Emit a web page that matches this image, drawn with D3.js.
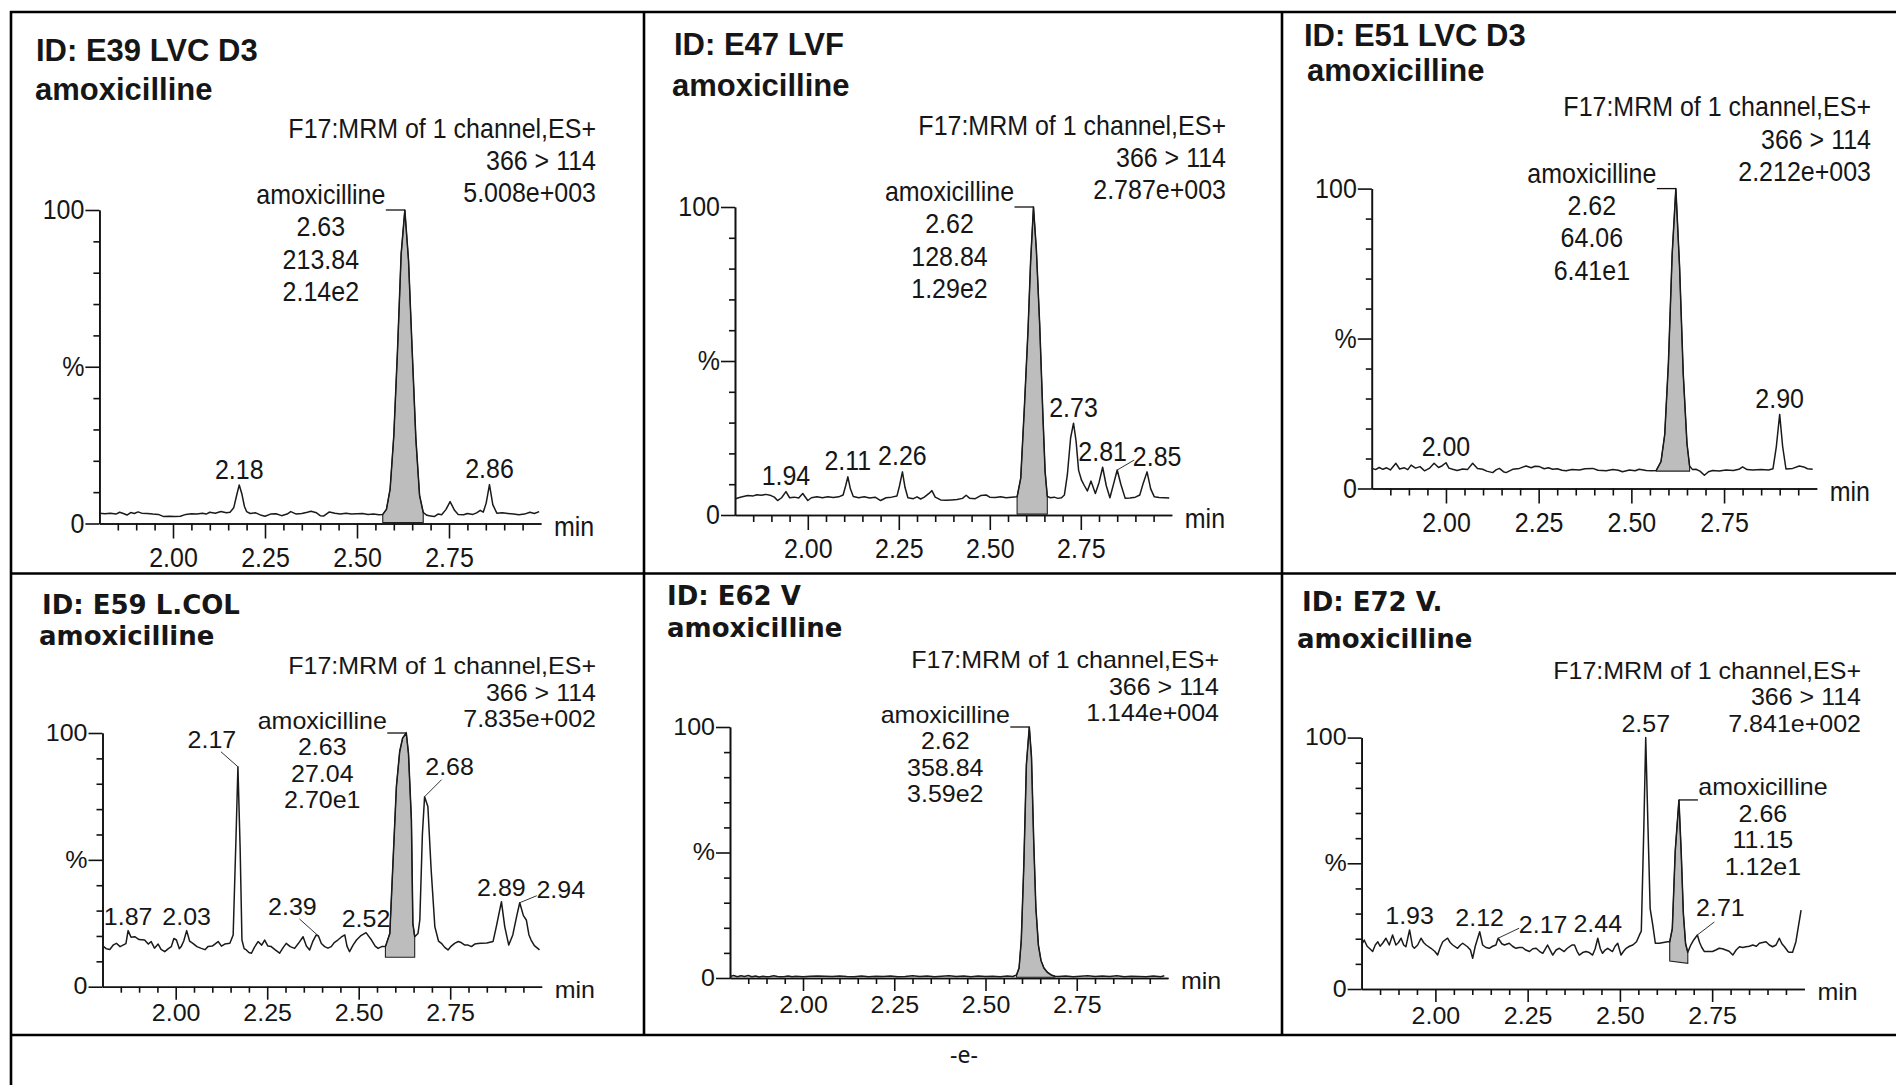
<!DOCTYPE html>
<html>
<head>
<meta charset="utf-8">
<script src="https://cdn.jsdelivr.net/npm/d3@7"></script>
<style>
  html, body { margin: 0; padding: 0; background: #fff; }
  svg { display: block; }
  text { font-family: "Liberation Sans", Arial, sans-serif; fill: #161616; }
  .sq { transform-box: fill-box; transform-origin: center; }
</style>
</head>
<body>
<script>
// ---------- data ----------
const panelIds = ["ID: E39 LVC D3", "ID: E47 LVF", "ID: E51 LVC D3", "ID: E59 L.COL", "ID: E62 V", "ID: E72 V."];
const compound = "amoxicilline";
const channel = "F17:MRM of 1 channel,ES+";
const transition = "366 > 114";
const maxIntensity = ["5.008e+003", "2.787e+003", "2.212e+003", "7.835e+002", "1.144e+004", "7.841e+002"];

// integrated amoxicilline peak: retention time, area, height label
const mainRT = [2.63, 2.62, 2.62, 2.63, 2.62, 2.66];
const mainArea = [213.84, 128.84, 64.06, 27.04, 358.84, 11.15];
const mainHeight = ["2.14e2", "1.29e2", "6.41e1", "2.70e1", "3.59e2", "1.12e1"];

// other labelled peaks (retention times)
const peaksE39 = [2.18, 2.86];
const peaksE47 = [1.94, 2.11, 2.26, 2.73, 2.81, 2.85];
const peaksE51 = [2.00, 2.90];
const peaksE59 = [1.87, 2.03, 2.17, 2.39, 2.52, 2.68, 2.89, 2.94];
const peaksE62 = [];
const peaksE72 = [1.93, 2.12, 2.17, 2.44, 2.57, 2.71];

// integration window: start, end, baseline % at start, baseline % at end
const fillE39 = [2.57, 2.68, 0.3, 0.3];
const fillE47 = [2.575, 2.658, 0.3, 0.3];
const fillE51 = [2.567, 2.657, 5.8, 5.8];
const fillE59 = [2.573, 2.653, 11.6, 11.6];
const fillE62 = [2.585, 2.69, 0.3, 0.3];
const fillE72 = [2.635, 2.684, 11.1, 10.2];

const majorX = [2.00, 2.25, 2.50, 2.75];
const yLabels = [0, 50, 100];

// chromatogram traces: [time (min), relative intensity (%)]
const traceE39 = [[1.80,3.3],[1.815,3.1],[1.83,3.3],[1.845,3.0],[1.855,3.6],[1.865,3.2],[1.875,2.7],[1.885,3.5],[1.895,3.2],[1.905,3.7],[1.915,3.3],[1.93,3.2],[1.945,3.0],[1.96,2.9],[1.975,2.2],[1.99,2.3],[2.005,2.2],[2.02,2.3],[2.035,2.9],[2.05,3.1],[2.065,3.0],[2.08,3.3],[2.09,3.0],[2.10,3.6],[2.115,3.3],[2.13,3.8],[2.145,3.4],[2.155,3.6],[2.165,5.0],[2.173,9.0],[2.18,12.3],[2.187,9.5],[2.194,5.5],[2.20,3.8],[2.21,3.2],[2.225,3.4],[2.24,2.6],[2.25,2.3],[2.265,3.0],[2.28,3.1],[2.295,2.5],[2.31,3.0],[2.32,3.8],[2.335,3.0],[2.35,3.2],[2.365,3.6],[2.375,3.9],[2.39,3.4],[2.40,2.5],[2.41,2.4],[2.425,3.7],[2.44,3.3],[2.455,3.0],[2.47,3.3],[2.485,3.0],[2.50,3.1],[2.515,3.2],[2.53,2.9],[2.545,3.0],[2.56,2.8],[2.57,2.9],[2.58,4.5],[2.59,11],[2.60,28],[2.61,55],[2.62,86],[2.63,100],[2.64,84],[2.65,55],[2.66,27],[2.67,9],[2.68,3.5],[2.69,2.6],[2.70,2.4],[2.71,2.2],[2.72,3.0],[2.73,2.8],[2.742,4.5],[2.753,7.0],[2.765,4.2],[2.775,2.9],[2.79,2.8],[2.80,3.2],[2.815,2.9],[2.825,3.4],[2.835,4.2],[2.843,3.6],[2.851,6.5],[2.86,12.4],[2.869,6.0],[2.88,3.3],[2.895,3.4],[2.91,3.2],[2.925,3.0],[2.94,2.8],[2.955,3.0],[2.97,3.6],[2.982,3.2],[2.995,3.8]];

const traceE47 = [[1.80,5.2],[1.81,5.6],[1.82,5.9],[1.835,6.3],[1.85,6.2],[1.86,6.6],[1.872,6.4],[1.885,6.7],[1.899,6.3],[1.908,5.8],[1.917,4.7],[1.928,5.6],[1.94,7.6],[1.95,5.6],[1.963,5.8],[1.975,5.5],[1.986,7.0],[2.00,4.7],[2.01,5.6],[2.025,5.9],[2.04,5.6],[2.055,5.9],[2.07,5.7],[2.085,5.9],[2.097,6.5],[2.104,9.5],[2.11,12.4],[2.117,8.5],[2.125,6.0],[2.14,5.6],[2.155,5.9],[2.17,5.5],[2.185,5.8],[2.20,4.7],[2.215,5.6],[2.23,5.8],[2.245,6.2],[2.252,9.5],[2.26,14.0],[2.267,9.0],[2.275,5.6],[2.29,5.3],[2.30,5.9],[2.31,5.2],[2.32,5.8],[2.333,7.0],[2.341,7.9],[2.35,5.8],[2.365,4.9],[2.38,4.8],[2.395,4.9],[2.41,5.0],[2.425,5.4],[2.435,6.4],[2.445,5.4],[2.46,5.3],[2.475,6.3],[2.49,6.5],[2.50,5.8],[2.515,5.7],[2.53,5.9],[2.545,5.6],[2.56,5.8],[2.575,5.9],[2.585,12],[2.595,35],[2.605,60],[2.612,82],[2.62,100],[2.628,86],[2.637,62],[2.646,32],[2.652,14],[2.658,6.0],[2.667,5.6],[2.677,5.8],[2.687,5.4],[2.697,5.6],[2.705,6.5],[2.713,13],[2.722,25],[2.73,29.8],[2.737,24],[2.744,14.5],[2.752,11.3],[2.76,9.5],[2.768,7.8],[2.778,11.0],[2.79,7.0],[2.80,10.5],[2.81,15.5],[2.82,9.5],[2.83,5.6],[2.841,10.5],[2.85,14.6],[2.86,10],[2.872,5.4],[2.885,5.5],[2.90,5.8],[2.912,6.5],[2.922,10.5],[2.932,14.0],[2.942,8.5],[2.952,5.9],[2.965,5.7],[2.98,5.6],[2.993,5.5]];

const traceE51 = [[1.80,6.8],[1.81,6.3],[1.82,7.0],[1.83,6.4],[1.84,6.9],[1.85,6.2],[1.865,8.4],[1.875,6.5],[1.888,6.9],[1.897,6.3],[1.906,7.8],[1.918,6.8],[1.93,7.3],[1.942,5.9],[1.955,6.7],[1.968,8.4],[1.98,7.0],[1.99,7.6],[2.00,8.6],[2.008,6.8],[2.018,6.4],[2.03,6.0],[2.045,6.5],[2.058,6.3],[2.072,8.4],[2.085,6.7],[2.099,6.4],[2.11,5.8],[2.126,5.3],[2.135,6.2],[2.144,6.7],[2.155,5.6],[2.162,5.3],[2.18,6.4],[2.198,6.7],[2.216,7.5],[2.23,6.9],[2.24,7.4],[2.252,7.3],[2.265,6.6],[2.276,6.9],[2.288,6.4],[2.30,6.6],[2.313,6.1],[2.324,5.9],[2.34,6.3],[2.36,6.2],[2.375,6.6],[2.396,6.7],[2.41,6.1],[2.432,5.9],[2.45,6.3],[2.465,6.1],[2.476,5.6],[2.495,6.2],[2.51,5.9],[2.521,6.4],[2.54,6.0],[2.555,5.9],[2.567,6.0],[2.58,9],[2.59,18],[2.60,42],[2.61,78],[2.62,100],[2.63,74],[2.64,38],[2.65,15],[2.657,7.5],[2.665,6.3],[2.674,6.4],[2.685,5.8],[2.697,4.4],[2.708,5.6],[2.719,6.0],[2.737,5.8],[2.755,6.2],[2.775,6.0],[2.79,6.4],[2.80,7.2],[2.812,6.3],[2.827,6.2],[2.85,6.3],[2.87,6.2],[2.882,6.6],[2.891,14],[2.90,24.7],[2.908,14],[2.917,6.5],[2.935,6.7],[2.953,7.5],[2.965,7.2],[2.975,6.6],[2.989,6.4]];

const traceE59 = [[1.80,16.2],[1.81,15.0],[1.82,14.7],[1.83,16.5],[1.838,17.1],[1.848,15.8],[1.856,16.4],[1.864,17.0],[1.87,22.1],[1.878,19.5],[1.888,19.7],[1.90,18.6],[1.915,18.4],[1.925,16.8],[1.933,17.8],[1.942,15.2],[1.952,16.8],[1.96,14.7],[1.97,13.8],[1.98,15.0],[1.988,15.8],[1.995,19.0],[2.002,18.4],[2.01,15.0],[2.015,15.8],[2.022,18.0],[2.03,22.1],[2.038,18.0],[2.047,17.1],[2.058,15.8],[2.07,15.1],[2.08,14.6],[2.088,15.8],[2.10,16.0],[2.116,17.8],[2.125,16.0],[2.134,16.8],[2.148,17.1],[2.157,20.4],[2.165,60],[2.17,86.7],[2.176,55],[2.181,18.4],[2.187,15.0],[2.193,14.5],[2.20,13.5],[2.207,13.2],[2.215,15.5],[2.225,17.8],[2.235,16.4],[2.243,18.4],[2.252,16.0],[2.261,15.8],[2.272,14.5],[2.284,13.2],[2.294,15.5],[2.302,17.1],[2.313,15.8],[2.325,15.1],[2.335,17.0],[2.348,19.7],[2.357,16.0],[2.366,14.5],[2.375,18.0],[2.384,20.4],[2.39,20.0],[2.398,17.0],[2.407,15.8],[2.416,15.2],[2.425,15.8],[2.434,17.5],[2.443,18.4],[2.452,19.5],[2.462,20.4],[2.468,16.0],[2.475,13.8],[2.485,16.5],[2.494,18.4],[2.505,20.0],[2.52,21.3],[2.535,18.4],[2.545,16.0],[2.553,15.1],[2.563,15.8],[2.573,15.8],[2.585,21.0],[2.594,50],[2.603,78.9],[2.612,92.7],[2.62,98],[2.63,100],[2.636,92],[2.644,65.7],[2.648,25],[2.653,19.7],[2.662,21.0],[2.667,26.3],[2.674,60],[2.68,74.9],[2.689,71],[2.698,46],[2.708,23.7],[2.718,18.0],[2.726,17.1],[2.735,15.5],[2.744,14.5],[2.753,16.0],[2.762,17.1],[2.772,17.8],[2.78,17.4],[2.79,16.4],[2.799,16.4],[2.808,15.8],[2.817,16.8],[2.826,17.0],[2.835,17.1],[2.85,17.2],[2.867,17.8],[2.876,23.7],[2.89,33.5],[2.899,23.7],[2.91,16.4],[2.921,20.4],[2.932,28],[2.94,33.1],[2.95,28],[2.958,26.3],[2.965,20.5],[2.971,18.4],[2.98,16.2],[2.994,14.5]];

const traceE62 = [[1.80,0.6],[1.81,1.0],[1.82,0.5],[1.83,0.9],[1.84,0.6],[1.85,1.0],[1.86,0.5],[1.87,0.8],[1.88,0.4],[1.89,0.7],[1.90,0.5],[1.91,0.6],[1.92,0.9],[1.93,0.6],[1.94,0.5],[1.95,0.6],[1.96,0.8],[1.97,0.5],[1.98,0.7],[1.99,0.6],[2.00,0.5],[2.02,0.7],[2.04,0.8],[2.06,0.7],[2.08,0.6],[2.10,0.8],[2.12,0.6],[2.14,0.5],[2.16,0.8],[2.18,0.5],[2.20,0.7],[2.22,0.6],[2.24,0.8],[2.26,0.5],[2.28,0.6],[2.30,0.9],[2.32,0.6],[2.34,0.8],[2.36,0.5],[2.38,0.7],[2.40,0.9],[2.42,0.6],[2.44,0.8],[2.46,0.5],[2.48,0.8],[2.50,0.6],[2.52,0.7],[2.54,0.5],[2.56,0.8],[2.575,0.6],[2.585,1.2],[2.592,4],[2.598,15],[2.605,45],[2.612,85],[2.62,100],[2.626,88],[2.632,55],[2.638,28],[2.645,13],[2.652,7],[2.66,4],[2.67,2.2],[2.68,1.2],[2.69,0.7],[2.70,0.6],[2.72,0.8],[2.74,0.5],[2.76,0.7],[2.78,0.9],[2.80,0.6],[2.82,0.8],[2.84,0.6],[2.86,0.9],[2.88,0.5],[2.90,0.7],[2.92,0.6],[2.94,0.5],[2.96,0.8],[2.98,0.5],[2.99,0.9]];

const traceE72 = [[1.80,17.5],[1.807,19.5],[1.815,17.0],[1.821,16.2],[1.83,14.9],[1.837,17.5],[1.844,18.8],[1.85,17.0],[1.857,18.2],[1.866,20.2],[1.875,17.5],[1.884,21.5],[1.893,17.5],[1.90,18.5],[1.907,20.2],[1.914,17.5],[1.92,16.8],[1.93,23.5],[1.938,17.0],[1.943,16.2],[1.952,17.5],[1.961,20.2],[1.968,18.5],[1.975,17.5],[1.988,16.2],[1.998,15.0],[2.006,13.5],[2.013,16.5],[2.02,18.8],[2.033,20.2],[2.04,18.5],[2.047,17.5],[2.06,16.2],[2.068,17.5],[2.074,18.2],[2.087,16.8],[2.095,15.5],[2.101,12.2],[2.108,17.0],[2.12,22.8],[2.128,17.5],[2.137,16.5],[2.146,16.2],[2.155,17.0],[2.164,17.5],[2.17,20.2],[2.18,18.0],[2.187,17.5],[2.20,18.2],[2.209,17.0],[2.218,16.2],[2.227,16.5],[2.236,16.5],[2.245,15.5],[2.255,14.9],[2.264,16.0],[2.273,16.2],[2.282,15.0],[2.291,14.2],[2.30,16.5],[2.304,17.5],[2.311,15.5],[2.318,13.5],[2.327,15.5],[2.336,16.2],[2.349,14.9],[2.356,16.0],[2.363,16.8],[2.37,17.5],[2.377,17.5],[2.384,15.0],[2.39,13.5],[2.399,14.5],[2.408,14.9],[2.417,14.5],[2.426,13.5],[2.433,16.0],[2.44,20.2],[2.447,16.0],[2.453,14.2],[2.46,15.5],[2.467,16.2],[2.474,15.5],[2.48,14.9],[2.487,17.0],[2.494,18.2],[2.503,13.5],[2.51,15.0],[2.517,16.2],[2.526,17.0],[2.535,17.5],[2.545,18.8],[2.553,21.5],[2.558,23.0],[2.565,65],[2.57,100],[2.576,65],[2.582,32],[2.589,25.5],[2.596,18.2],[2.607,18.2],[2.618,18.5],[2.629,18.8],[2.635,18.8],[2.642,24],[2.65,55],[2.66,75.2],[2.666,55],[2.672,30],[2.678,18],[2.684,14.6],[2.692,17.5],[2.70,19.5],[2.71,21.5],[2.716,18.5],[2.722,16.5],[2.729,14.9],[2.74,14.9],[2.751,14.9],[2.76,15.5],[2.769,16.2],[2.778,16.0],[2.787,15.5],[2.796,15.0],[2.806,13.5],[2.815,15.5],[2.824,16.8],[2.833,16.5],[2.842,16.8],[2.851,17.0],[2.86,17.5],[2.87,17.0],[2.878,18.2],[2.887,18.5],[2.896,18.8],[2.905,17.5],[2.914,16.8],[2.923,17.5],[2.932,20.2],[2.939,18.0],[2.946,16.8],[2.955,15.0],[2.959,14.6],[2.968,14.6],[2.977,18.8],[2.991,31.4]];

const traces = [traceE39, traceE47, traceE51, traceE59, traceE62, traceE72];
const peakLists = [peaksE39, peaksE47, peaksE51, peaksE59, peaksE62, peaksE72];
const fills = [fillE39, fillE47, fillE51, fillE59, fillE62, fillE72];

// ---------- layout ----------
const W = 1896, H = 1085;
const FONT = '"Liberation Sans", Arial, sans-serif';

// plot frame of each chromatogram cell
const frames = [
  {ox: 99.4,   ppm: 368,   y0: 523.5, y100: 210,   row: 0, titleX: 36,   titleY: 50,  compY: 89,  compX: 35,   headRight: 596,  side: -1},
  {ox: 735,    ppm: 364,   y0: 515,   y100: 207,   row: 0, titleX: 674,  titleY: 44,  compY: 85,  compX: 672,  headRight: 1226, side: -1},
  {ox: 1371.8, ppm: 370.8, y0: 488.5, y100: 188.6, row: 0, titleX: 1304, titleY: 35,  compY: 70,  compX: 1307, headRight: 1871, side: -1},
  {ox: 102.5,  ppm: 366,   y0: 986.7, y100: 733,   row: 1, titleX: 42,   titleY: 605, compY: 636, compX: 39,   headRight: 596,  side: -1},
  {ox: 730,    ppm: 365,   y0: 978,   y100: 727,   row: 1, titleX: 667,  titleY: 596, compY: 628, compX: 667,  headRight: 1219, side: -1},
  {ox: 1361.6, ppm: 369,   y0: 989,   y100: 737.6, row: 1, titleX: 1302, titleY: 602, compY: 639, compX: 1297, headRight: 1861, side: 1}
];

// text/tick proportions per row of the table
const rowStyle = [
  {sy: 1.1, gap: 32.3, labelDy: -16, headDy: -82, mainDy: -15.5, tickPad: 9.5, major: 15, minor: 7,
   titleFont: FONT, titleSize: 31},
  {sy: 0.92, gap: 26.5, labelDy: -14, headDy: -67, mainDy: -12.5, tickPad: 4.5, major: 13, minor: 6,
   titleFont: '"DejaVu Sans", Verdana, sans-serif', titleSize: 26}
];

// labels that sit beside their peak with a leader: [label dx, label dy, leader dx, leader dy]
const leaders = {
  1: {"2.85": [40, -14, 17, -10]},
  3: {"2.17": [-26, -27, -17, -15], "2.39": [-26, -29, -19, -17], "2.68": [25, -30, 17, -17], "2.94": [41, -13, 17, -7]},
  5: {"2.17": [45, -13, 21, -10], "2.71": [23, -27, 17, -13]}
};

const svg = d3.select("body").append("svg").attr("width", W).attr("height", H);

function label(g, x, y, str, o = {}) {
  const t = g.append("text")
    .attr("x", x).attr("y", y).attr("dy", "0.35em")
    .attr("text-anchor", o.anchor || "middle")
    .style("font-size", (o.size || 25) + "px")
    .text(str);
  if (o.weight) t.style("font-weight", o.weight);
  if (o.family) t.style("font-family", o.family);
  if (o.sy && o.sy !== 1) t.attr("class", "sq").style("transform", `scaleY(${o.sy})`);
  return t;
}

function styleAxis(sel, rs) {
  sel.attr("font-family", FONT).attr("font-size", 25).attr("color", "#161616");
  sel.selectAll("path, line").attr("stroke", "#111").attr("stroke-width", 1.6);
  sel.selectAll("text").attr("class", "sq").style("transform", `scaleY(${rs.sy})`);
}

const minorX = d3.range(37, 60).map(i => +(i * 0.05).toFixed(2)).filter(v => !majorX.includes(v));
const minorY = d3.range(10, 100, 10).filter(v => v !== 50);

traces.forEach((trace, i) => {
  const f = frames[i], rs = rowStyle[f.row];
  const g = svg.append("g");
  const x = d3.scaleLinear().domain([1.8, 3.0]).range([f.ox, f.ox + 1.2 * f.ppm]);
  const y = d3.scaleLinear().domain([0, 100]).range([f.y0, f.y100]);
  const line = d3.line().x(d => x(d[0])).y(d => y(d[1]));

  // sample id and compound
  label(g, f.titleX, f.titleY, panelIds[i], {anchor: "start", size: rs.titleSize, weight: "bold", family: rs.titleFont});
  label(g, f.compX, f.compY, compound, {anchor: "start", size: rs.titleSize, weight: "bold", family: rs.titleFont});

  // acquisition header
  [channel, transition, maxIntensity[i]].forEach((s, k) =>
    label(g, f.headRight, f.y100 + rs.headDy + k * rs.gap, s, {anchor: "end", sy: rs.sy}));

  // axes
  g.append("g").attr("transform", `translate(0,${f.y0})`)
    .call(d3.axisBottom(x).tickValues(minorX).tickSize(rs.minor).tickSizeOuter(0).tickFormat(""))
    .call(s => styleAxis(s, rs));
  g.append("g").attr("transform", `translate(0,${f.y0})`)
    .call(d3.axisBottom(x).tickValues(majorX).tickSize(rs.major).tickSizeOuter(0)
      .tickPadding(rs.tickPad).tickFormat(d3.format(".2f")))
    .call(s => styleAxis(s, rs));
  g.append("g").attr("transform", `translate(${f.ox},0)`)
    .call(d3.axisLeft(y).tickValues(minorY).tickSize(6).tickSizeOuter(0).tickFormat(""))
    .call(s => styleAxis(s, rs));
  g.append("g").attr("transform", `translate(${f.ox},0)`)
    .call(d3.axisLeft(y).tickValues(yLabels).tickSize(14).tickSizeOuter(0).tickPadding(1)
      .tickFormat(d => d === 50 ? "%" : String(d)))
    .call(s => styleAxis(s, rs));
  label(g, x(3.0) + 13, f.y0 + 3, "min", {anchor: "start", sy: rs.sy});

  // integrated area of the amoxicilline peak
  const [t0, t1, b0, b1] = fills[i];
  const seg = trace.filter(d => d[0] >= t0 && d[0] <= t1);
  const poly = [[t0, b0], ...seg, [t1, b1]];
  g.append("path").attr("d", line(poly) + "Z")
    .attr("fill", "#bdbdbd").attr("stroke", "#222").attr("stroke-width", 1.1);

  // chromatogram trace
  g.append("path").datum(trace).attr("d", line)
    .attr("fill", "none").attr("stroke", "#1a1a1a").attr("stroke-width", 1.5)
    .attr("stroke-linejoin", "round");

  // retention-time labels
  peakLists[i].forEach(tp => {
    const pt = trace.find(d => d[0] === tp);
    const key = tp.toFixed(2);
    const px = x(pt[0]), py = y(pt[1]);
    const L = (leaders[i] || {})[key];
    if (L) {
      g.append("line").attr("x1", px).attr("y1", py).attr("x2", px + L[2]).attr("y2", py + L[3])
        .attr("stroke", "#333").attr("stroke-width", 1);
      label(g, px + L[0], py + L[1], key, {sy: rs.sy});
    } else {
      label(g, px, py + rs.labelDy, key, {sy: rs.sy});
    }
  });

  // amoxicilline peak annotation
  const rt = mainRT[i];
  const apex = trace.find(d => d[0] === rt);
  const ax = x(apex[0]), ay = y(apex[1]);
  g.append("line").attr("x1", ax).attr("y1", ay).attr("x2", ax + f.side * 19).attr("y2", ay)
    .attr("stroke", "#111").attr("stroke-width", 1.3);
  const cx = ax + f.side * 84;
  [compound, rt.toFixed(2), mainArea[i].toFixed(2), mainHeight[i]].forEach((s, k) =>
    label(g, cx, ay + rs.mainDy + k * rs.gap, s, {sy: rs.sy}));
});

// table rules
const grid = svg.append("g").attr("stroke", "#000").attr("stroke-width", 2.6);
[12, 573.5, 1035].forEach(yy => grid.append("line").attr("x1", 10).attr("x2", W).attr("y1", yy).attr("y2", yy));
grid.append("line").attr("x1", 11).attr("x2", 11).attr("y1", 11).attr("y2", H);
[644, 1282].forEach(xx => grid.append("line").attr("x1", xx).attr("x2", xx).attr("y1", 11).attr("y2", 1035));

// caption cell
label(svg, 964, 1055, "-e-", {size: 23, family: '"Noto Sans", "Liberation Sans", sans-serif'});
</script>
</body>
</html>
